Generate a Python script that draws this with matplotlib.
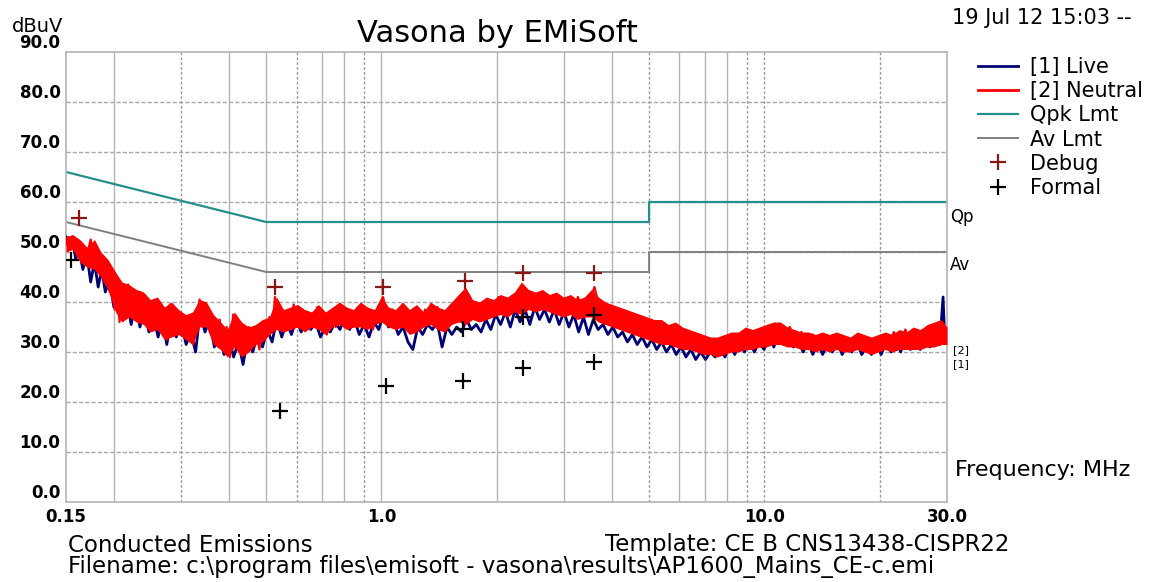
import matplotlib
matplotlib.use("Agg")
import matplotlib.pyplot as plt
from matplotlib.lines import Line2D

plt.rcParams['font.family'] = ['DejaVu Sans']

# limit lines (MHz, dBuV)
qpk_freq = [0.15, 0.5, 5.0, 5.0, 30.0]
qpk_level = [66.0, 56.0, 56.0, 60.0, 60.0]
av_freq = [0.15, 0.5, 5.0, 5.0, 30.0]
av_level = [56.0, 46.0, 46.0, 50.0, 50.0]

# [2] Neutral sweep
neutral_freq = [
    0.150, 0.152, 0.154, 0.156, 0.158, 0.160, 0.162, 0.165, 0.168, 0.171,
    0.174, 0.177, 0.180, 0.183, 0.186, 0.189, 0.192, 0.195, 0.198, 0.201,
    0.204, 0.207, 0.210, 0.214, 0.218, 0.222, 0.226, 0.230, 0.234, 0.238,
    0.242, 0.246, 0.250, 0.255, 0.260, 0.265, 0.270, 0.275, 0.280, 0.286,
    0.292, 0.298, 0.304, 0.310, 0.316, 0.322, 0.328, 0.335, 0.342, 0.349,
    0.356, 0.363, 0.370, 0.378, 0.386, 0.394, 0.402, 0.410, 0.418, 0.426,
    0.434, 0.442, 0.451, 0.460, 0.470, 0.480, 0.490, 0.500, 0.510, 0.520,
    0.527, 0.535, 0.545, 0.555, 0.565, 0.575, 0.590, 0.605, 0.620, 0.635,
    0.650, 0.665, 0.680, 0.700, 0.720, 0.740, 0.760, 0.780, 0.800, 0.820,
    0.845, 0.870, 0.895, 0.920, 0.950, 0.980, 1.010, 1.040, 1.070, 1.100,
    1.140, 1.180, 1.220, 1.260, 1.300, 1.350, 1.400, 1.450, 1.500, 1.550,
    1.600, 1.650, 1.700, 1.760, 1.820, 1.880, 1.950, 2.020, 2.090, 2.160,
    2.240, 2.320, 2.400, 2.480, 2.560, 2.650, 2.740, 2.840, 2.940, 3.040,
    3.150, 3.260, 3.380, 3.500, 3.600, 3.720, 3.850, 3.980, 4.120, 4.260,
    4.400, 4.560, 4.720, 4.880, 5.050, 5.230, 5.420, 5.610, 5.810, 6.020,
    6.230, 6.450, 6.680, 6.920, 7.160, 7.420, 7.680, 7.950, 8.230, 8.520,
    8.820, 9.130, 9.460, 9.790, 10.14, 10.50, 10.87, 11.25, 11.65, 12.06,
    12.49, 12.93, 13.39, 13.86, 14.35, 14.86, 15.38, 15.93, 16.49, 17.08,
    17.68, 18.31, 18.96, 19.63, 20.32, 21.04, 21.79, 22.56, 23.36, 24.18,
    25.04, 25.93, 26.84, 27.80, 28.78, 29.50, 30.00]
neutral_level = [
    51.5, 53.0, 51.0, 52.8, 50.5, 52.0, 49.0, 51.5, 47.5, 50.0,
    52.5, 48.0, 50.5, 46.0, 48.5, 44.0, 46.5, 42.0, 45.5, 38.5,
    43.0, 36.0, 42.5, 38.0, 43.5, 39.0, 41.5, 36.5, 42.0, 37.0,
    40.5, 35.0, 38.5, 36.5, 40.0, 34.0, 38.0, 32.5, 39.5, 35.0,
    38.5, 34.0, 37.5, 33.0, 36.0, 31.5, 36.5, 40.5, 37.0, 39.5,
    35.5, 37.0, 32.0, 36.5, 30.5, 35.0, 29.0, 37.5, 33.5, 30.0,
    34.5, 31.0, 35.0, 32.5, 34.0, 30.5, 36.0, 33.5, 37.0, 35.0,
    41.0, 36.0, 38.5, 34.5, 38.0, 35.0, 39.5, 36.0, 38.5, 34.5,
    37.5, 35.5, 39.0, 36.0, 33.5, 38.0, 35.0, 39.5, 36.5, 38.0,
    35.0, 39.0, 36.0, 38.5, 34.5, 39.0, 41.0, 36.5, 38.5, 35.5,
    39.5, 36.0, 38.0, 34.5, 38.5, 36.0, 39.0, 35.5, 38.0, 36.5,
    40.5, 42.0, 37.0, 39.5, 36.5, 40.0, 37.0, 41.0, 38.0, 40.5,
    39.0, 42.5, 38.5, 41.5, 39.0, 42.0, 38.5, 41.0, 38.0, 40.5,
    37.5, 41.0, 38.0, 40.0, 43.0, 38.5, 39.5, 37.0, 38.5, 36.0,
    37.5, 35.5, 36.5, 34.5, 36.0, 34.0, 35.5, 33.0, 34.5, 32.5,
    34.0, 31.5, 33.0, 30.5, 32.5, 30.0, 32.0, 30.5, 33.0, 31.0,
    34.0, 31.5, 33.5, 31.0, 34.5, 32.0, 35.5, 33.0, 35.0, 32.5,
    34.0, 31.0, 33.5, 30.5, 33.0, 31.0, 33.5, 30.5, 32.5, 31.0,
    33.5, 30.5, 32.0, 30.0, 33.0, 31.0, 34.0, 31.5, 34.5, 31.0,
    33.0, 31.5, 35.0, 32.0, 36.0, 32.5, 34.0]

# dense part of the neutral sweep: max / min per bin
bin_freq = [
    0.150, 0.156, 0.163, 0.170, 0.178, 0.185, 0.193, 0.202, 0.210, 0.219,
    0.229, 0.239, 0.249, 0.260, 0.271, 0.283, 0.295, 0.308, 0.321, 0.335,
    0.349, 0.364, 0.380, 0.396, 0.413, 0.431, 0.450, 0.469, 0.489, 0.510,
    0.532, 0.555, 0.579, 0.604, 0.630, 0.657, 0.685, 0.714, 0.745, 0.777,
    0.810, 0.845, 0.881, 0.919, 0.959, 1.000, 1.043, 1.088, 1.135, 1.184,
    1.235, 1.288, 1.343, 1.401, 1.461, 1.524, 1.589, 1.657, 1.729, 1.803,
    1.880, 1.961, 2.045, 2.133, 2.225, 2.321, 2.420, 2.524, 2.633, 2.746,
    2.864, 2.987, 3.115, 3.249, 3.389, 3.535, 3.687, 3.845, 4.010, 4.183,
    4.362, 4.550, 4.745, 4.949, 5.162, 5.384, 5.616, 5.857, 6.109, 6.371,
    6.645, 6.931, 7.229, 7.540, 7.864, 8.202, 8.555, 8.922, 9.306, 9.706,
    10.12, 10.56, 11.01, 11.48, 11.98, 12.49, 13.03, 13.59, 14.17, 14.78,
    15.42, 16.08, 16.77, 17.49, 18.24, 19.03, 19.84, 20.70, 21.59, 22.51,
    23.48, 24.49, 25.54, 26.64, 27.79, 28.98, 30.00]
neutral_high = [
    53.0, 53.5, 52.5, 51.0, 52.5, 50.0, 48.5, 46.0, 44.0, 43.5,
    42.5, 42.0, 40.5, 41.0, 39.0, 40.0, 38.5, 37.5, 38.0, 40.5,
    40.0, 37.5, 36.0, 34.5, 38.0, 36.0, 35.0, 35.5, 36.5, 37.0,
    41.0, 38.5, 39.0, 39.5, 38.5, 38.0, 39.5, 38.0, 39.0, 40.0,
    39.0, 38.5, 40.0, 39.0, 38.5, 41.0, 39.0, 38.5, 40.0, 38.5,
    39.5, 38.0, 40.0, 39.0, 38.5, 40.0, 41.5, 43.0, 40.5, 40.0,
    41.0, 40.5, 41.5, 41.0, 42.0, 44.0, 42.5, 42.0, 42.5, 41.5,
    42.0, 41.0, 41.5, 40.5, 41.0, 42.5, 41.0, 40.0, 39.5, 39.0,
    38.5, 38.0, 37.5, 37.0, 36.5, 36.5, 35.5, 36.0, 35.0, 34.5,
    34.0, 33.5, 33.0, 33.0, 33.5, 34.0, 34.0, 35.0, 34.5, 35.0,
    35.5, 36.0, 36.0, 35.0, 34.5, 34.0, 34.0, 33.5, 34.0, 33.5,
    34.0, 33.5, 33.0, 34.0, 33.5, 33.0, 33.5, 34.0, 33.5, 34.5,
    34.0, 35.0, 34.5, 35.5, 36.0, 36.5, 35.0]
neutral_low = [
    50.0, 50.5, 48.0, 47.0, 46.5, 45.0, 42.5, 38.0, 36.0, 37.0,
    36.0, 35.5, 34.0, 34.5, 32.5, 33.0, 33.5, 32.5, 31.5, 35.0,
    35.0, 31.5, 30.5, 29.0, 31.0, 29.0, 30.0, 31.5, 32.0, 33.5,
    34.5, 34.0, 34.5, 35.0, 34.0, 35.0, 34.5, 33.5, 35.0, 35.5,
    34.5, 35.0, 35.0, 34.5, 35.5, 36.0, 35.0, 34.5, 35.0, 33.5,
    34.0, 35.0, 35.5, 34.5, 34.0, 35.5, 36.0, 35.5, 36.5, 36.0,
    36.5, 37.0, 37.5, 37.0, 38.0, 37.5, 38.5, 38.0, 38.5, 38.0,
    37.5, 37.0, 37.5, 36.5, 37.0, 37.0, 36.0, 35.5, 35.0, 34.5,
    34.0, 33.5, 33.0, 32.5, 32.0, 31.5, 31.5, 31.0, 30.5, 30.5,
    30.0, 29.5, 29.5, 29.0, 29.5, 30.0, 30.0, 30.5, 30.5, 31.0,
    31.0, 31.5, 31.5, 31.0, 31.0, 30.5, 30.5, 30.0, 30.5, 30.0,
    30.5, 30.0, 30.0, 30.5, 30.0, 29.5, 30.0, 30.5, 30.0, 30.5,
    30.5, 30.5, 30.5, 31.0, 31.0, 31.5, 31.5]

# [1] Live sweep
live_freq = [
    0.150, 0.153, 0.156, 0.159, 0.162, 0.166, 0.170, 0.174, 0.178, 0.182,
    0.186, 0.190, 0.195, 0.200, 0.205, 0.210, 0.216, 0.222, 0.228, 0.234,
    0.240, 0.247, 0.254, 0.261, 0.268, 0.275, 0.283, 0.291, 0.300, 0.309,
    0.318, 0.327, 0.336, 0.346, 0.356, 0.366, 0.377, 0.388, 0.399, 0.411,
    0.423, 0.435, 0.448, 0.461, 0.475, 0.489, 0.503, 0.518, 0.533, 0.549,
    0.565, 0.582, 0.599, 0.617, 0.635, 0.654, 0.673, 0.693, 0.714, 0.735,
    0.757, 0.779, 0.802, 0.826, 0.850, 0.875, 0.901, 0.928, 0.955, 0.984,
    1.013, 1.043, 1.074, 1.106, 1.139, 1.173, 1.208, 1.244, 1.281, 1.319,
    1.358, 1.398, 1.440, 1.483, 1.527, 1.572, 1.619, 1.667, 1.717, 1.768,
    1.820, 1.874, 1.930, 1.988, 2.047, 2.108, 2.171, 2.235, 2.302, 2.370,
    2.441, 2.514, 2.588, 2.666, 2.745, 2.827, 2.911, 2.998, 3.087, 3.179,
    3.274, 3.371, 3.472, 3.575, 3.681, 3.791, 3.904, 4.020, 4.140, 4.263,
    4.390, 4.521, 4.655, 4.794, 4.937, 5.084, 5.235, 5.391, 5.551, 5.717,
    5.887, 6.062, 6.243, 6.429, 6.620, 6.817, 7.020, 7.229, 7.444, 7.666,
    7.894, 8.129, 8.371, 8.621, 8.877, 9.142, 9.414, 9.694, 9.983, 10.28,
    10.59, 10.90, 11.23, 11.56, 11.91, 12.26, 12.63, 13.00, 13.39, 13.79,
    14.20, 14.62, 15.06, 15.51, 15.97, 16.44, 16.93, 17.44, 17.96, 18.49,
    19.04, 19.61, 20.19, 20.80, 21.41, 22.05, 22.71, 23.39, 24.08, 24.80,
    25.54, 26.30, 27.08, 27.89, 28.72, 29.30, 29.60, 30.00]
live_level = [
    53.0, 50.5, 52.5, 48.5, 51.0, 46.5, 49.5, 44.0, 48.0, 43.0,
    46.5, 42.0, 44.5, 39.0, 42.0, 36.5, 40.5, 35.5, 40.0, 35.0,
    38.5, 34.0, 37.0, 33.0, 36.5, 31.5, 37.0, 33.0, 35.5, 31.5,
    34.0, 30.0, 38.0, 34.0, 36.5, 31.0, 34.0, 29.5, 33.0, 29.0,
    32.0, 27.5, 33.0, 30.0, 33.5, 31.0, 34.5, 32.0, 36.5, 33.0,
    36.0, 33.5, 36.5, 34.0, 37.0, 34.5, 36.0, 33.0, 35.0, 34.0,
    36.0, 34.5, 37.0, 34.5, 36.5, 33.5, 35.5, 33.0, 36.0, 34.5,
    38.0, 35.0, 36.5, 33.5, 35.0, 32.0, 30.5, 35.0, 33.5, 35.5,
    34.5, 36.0, 31.0, 35.0, 33.5, 35.0, 34.0, 36.5, 34.5, 35.5,
    34.0, 36.5, 34.5, 37.5, 35.5, 38.0, 35.0, 38.5, 36.0, 38.5,
    35.5, 39.0, 36.5, 38.5, 36.0, 38.5, 35.5, 38.0, 35.0, 37.5,
    34.0, 37.0, 33.5, 36.5, 34.5, 35.5, 33.5, 35.0, 33.0, 34.0,
    32.0, 33.5, 31.5, 33.0, 31.0, 32.5, 30.5, 32.0, 30.0, 31.5,
    29.5, 31.0, 29.0, 30.5, 28.5, 30.0, 28.5, 30.0, 29.0, 31.0,
    29.0, 31.5, 29.5, 32.0, 30.0, 32.5, 30.0, 32.0, 30.5, 33.5,
    31.0, 34.0, 31.5, 33.5, 31.0, 32.5, 30.0, 32.0, 29.5, 32.0,
    29.5, 31.5, 30.0, 32.0, 29.5, 31.5, 30.0, 32.0, 29.5, 31.0,
    29.5, 31.5, 29.5, 32.0, 30.0, 32.5, 30.0, 33.0, 30.5, 32.5,
    30.5, 33.0, 31.0, 34.0, 31.5, 41.0, 32.0, 33.0]

# markers
debug_freq = [0.162, 0.527, 1.01, 1.65, 2.34, 3.6]
debug_level = [56.8, 43.0, 43.0, 44.2, 45.8, 45.8]
formal_freq = [0.155, 0.543, 1.03, 1.63, 2.34, 3.6, 1.63, 2.34, 3.6]
formal_level = [48.4, 18.2, 23.2, 24.2, 26.8, 28.0, 34.6, 37.0, 37.4]

x_ticks = [0.15, 1.0, 10.0, 30.0]
x_tick_labels = ["0.15", "1.0", "10.0", "30.0"]
y_ticks = [0, 10, 20, 30, 40, 50, 60, 70, 80, 90]
y_tick_labels = ["0.0", "10.0", "20.0", "30.0", "40.0", "50.0", "60.0", "70.0", "80.0", "90.0"]

grid_solid = [0.2, 0.4, 0.5, 0.7, 0.8, 1.0, 2.0, 3.0, 4.0, 6.0, 7.0, 8.0]
grid_dotted = [0.3, 0.6, 0.9, 5.0, 9.0, 10.0, 20.0]

NAVY = '#000075'
RED = '#ff0000'

fig = plt.figure(figsize=(11.5, 5.82), dpi=100)
ax = fig.add_axes([66 / 1150, 80 / 582, 881 / 1150, 450 / 582])
ax.set_xscale('log')
ax.set_xlim(0.15, 30)
ax.set_ylim(0, 90)

# grid
for f in grid_solid:
    ax.axvline(f, color='#b4b4b4', lw=1.0, zorder=1)
for f in grid_dotted:
    ax.axvline(f, color='#9a9a9a', lw=1.0, ls=(0, (2, 1.5)), zorder=1)
for lv in y_ticks[1:-1]:
    ax.axhline(lv, color='#a8a8a8', lw=1.0, ls=(0, (3, 1.5)), zorder=1)

ax.plot(qpk_freq, qpk_level, color='#21918a', lw=1.6, zorder=2)
ax.plot(av_freq, av_level, color='#808080', lw=1.4, zorder=2)

# traces: live underneath, neutral on top
ax.plot(live_freq, live_level, color=NAVY, lw=2.0, zorder=3)
ax.fill_between(bin_freq, neutral_low, neutral_high, color=RED, lw=0, zorder=4)
ax.plot(neutral_freq, neutral_level, color=RED, lw=1.6, zorder=4)

ax.plot(debug_freq, debug_level, ls='none', marker='+', ms=12, mew=1.6,
        color='#8b1515', zorder=5)
ax.plot(formal_freq, formal_level, ls='none', marker='+', ms=12, mew=1.6,
        color='black', zorder=5)

ax.set_xticks(x_ticks)
ax.set_xticklabels(x_tick_labels, fontsize=12, fontweight='bold')
ax.xaxis.set_minor_locator(matplotlib.ticker.NullLocator())
ax.set_yticks(y_ticks)
ax.set_yticklabels(y_tick_labels, fontsize=12, fontweight='bold')
ax.tick_params(length=0, pad=4)
for lab in ax.get_yticklabels():
    lab.set_verticalalignment('bottom')
for sp in ax.spines.values():
    sp.set_color('#b4b4b4')
    sp.set_linewidth(1.2)

# texts around the plot
fig.text(12 / 1150, 1 - 26 / 582, "dBuV", fontsize=14, va='center')
fig.text(497 / 1150, 1 - 34 / 582, "Vasona by EMiSoft", fontsize=22, ha='center', va='center')
fig.text(952 / 1150, 1 - 18 / 582, "19 Jul 12 15:03 --", fontsize=15, va='center')
fig.text(950 / 1150, 1 - 217 / 582, "Qp", fontsize=12, va='center')
fig.text(950 / 1150, 1 - 265 / 582, "Av", fontsize=12, va='center')
fig.text(953 / 1150, 1 - 350 / 582, "[2]", fontsize=8, va='center')
fig.text(953 / 1150, 1 - 364 / 582, "[1]", fontsize=8, va='center')
fig.text(955 / 1150, 1 - 470 / 582, "Frequency: MHz", fontsize=16, va='center')
fig.text(68 / 1150, 1 - 545 / 582, "Conducted Emissions", fontsize=16.5, va='center')
fig.text(605 / 1150, 1 - 545 / 582, "Template: CE B CNS13438-CISPR22", fontsize=16.5, va='center')
fig.text(68 / 1150, 1 - 566 / 582,
         "Filename: c:\\program files\\emisoft - vasona\\results\\AP1600_Mains_CE-c.emi",
         fontsize=16.5, va='center')

handles = [
    Line2D([], [], color=NAVY, lw=2),
    Line2D([], [], color=RED, lw=2),
    Line2D([], [], color='#21918a', lw=1.6),
    Line2D([], [], color='#808080', lw=1.4),
    Line2D([], [], ls='none', marker='+', ms=11, mew=1.6, color='#8b1515'),
    Line2D([], [], ls='none', marker='+', ms=11, mew=1.6, color='black'),
]
labels = ["[1] Live", "[2] Neutral", "Qpk Lmt", "Av Lmt", "Debug", "Formal"]
fig.legend(handles, labels, loc='upper left', bbox_to_anchor=(978 / 1150, 1 - 57 / 582),
           frameon=False, fontsize=15, handlelength=1.9, handletextpad=0.6,
           labelspacing=0.2, borderaxespad=0, borderpad=0)

fig.savefig("out.png", dpi=100)
